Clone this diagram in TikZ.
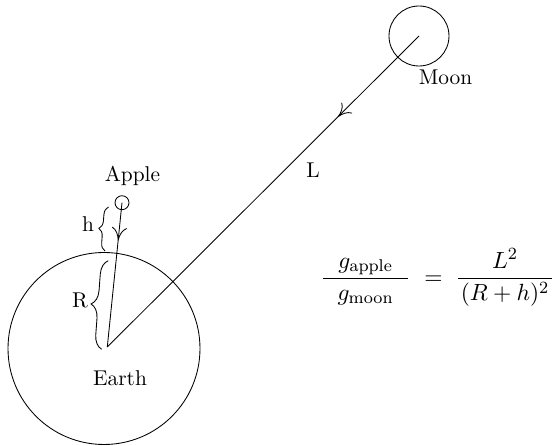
\documentclass[tikz,border=0pt]{standalone}
\usetikzlibrary{arrows.meta,decorations.markings,decorations.pathreplacing}
\begin{document}
\begin{tikzpicture}[x=0.01643cm,y=0.01643cm,
  body/.style={draw,circle,inner sep=0pt},
  lbl/.style={inner sep=0pt},
  pull/.style={postaction={decorate},decoration={markings,
     mark=at position 0.26 with {\arrow{To[length=6pt,width=7pt]}}}},
  hbrace/.style={decorate,decoration={brace,amplitude=#1}}]
\useasboundingbox (0,0) rectangle (552,446);
% bodies
\node[body,minimum size=3.155cm] (earth) at (104,97.5) {};
\node[body,minimum size=0.986cm] (moon) at (419,410) {};
\node[body,minimum size=0.23cm] (apple) at (122,243.3) {};
\coordinate (ec) at (107.3,99);
% connectors
\draw[pull] (moon.center) -- (ec);
\draw[pull] (apple.center) -- (ec);
% braces
\coordinate (hb1) at (105,195);
\coordinate (hb2) at (108.5,239);
\coordinate (rb1) at (101.7,96.7);
\coordinate (rb2) at (108.3,185.3);
\draw[hbrace=0.13cm] (hb1) -- (hb2);
\draw[hbrace=0.23cm] (rb1) -- (rb2);
% labels
\node[lbl] (moonl) at (445.5,369) {Moon};
\node[lbl] (ll) at (313,276) {L};
\node[lbl] (applel) at (132.5,270) {Apple};
\node[lbl] (earthl) at (120,68) {Earth};
\node[lbl] (hl) at (88,222) {h};
\node[lbl] (rl) at (80,146) {R};
\node[lbl,anchor=base west,font=\fontsize{10.8}{13}\selectfont] (eq) at (320.5,161.9)
  {$\displaystyle\frac{\makebox[39.4pt]{$g_{\mathrm{apple}}$}}{g_{\mathrm{moon}}}\kern6.6pt{=}\kern6pt\frac{\makebox[44pt]{$L^2$}}{(R+h)^2}$};
\end{tikzpicture}
\end{document}
